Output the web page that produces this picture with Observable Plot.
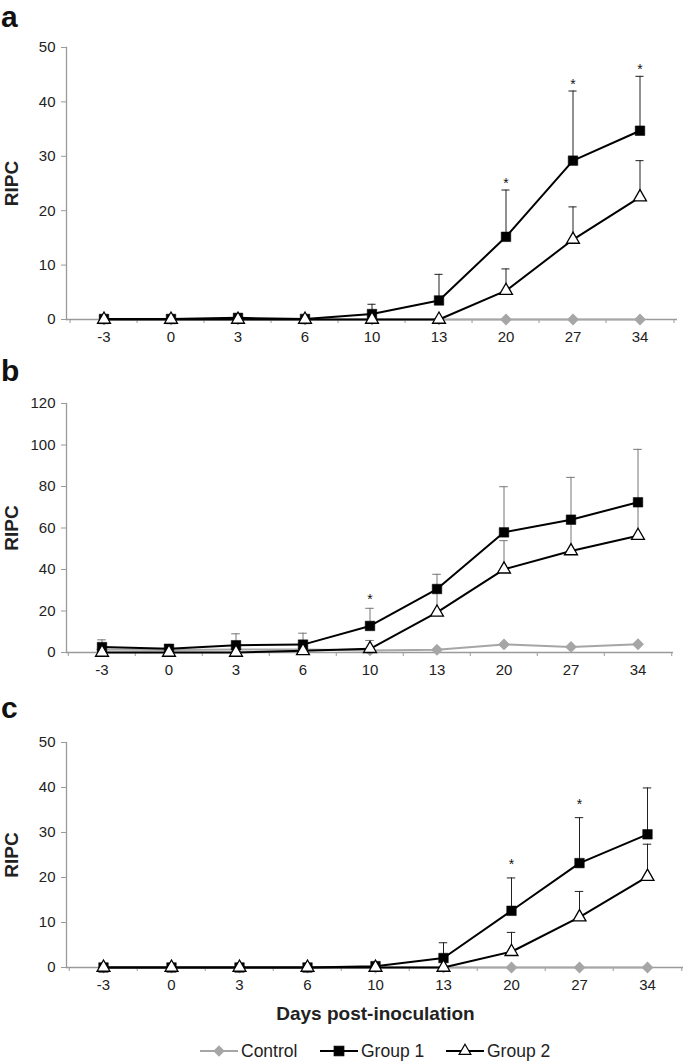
<!DOCTYPE html>
<html><head><meta charset="utf-8">
<script src="https://cdn.jsdelivr.net/npm/d3@7"></script>
<script src="https://cdn.jsdelivr.net/npm/@observablehq/plot@0.6"></script>
<style>
body{margin:0;background:#fff;}
#wrap{position:relative;width:685px;height:1061px;font-family:"Liberation Sans",Arial,sans-serif;color:#222;overflow:hidden;}
.panel{position:absolute;left:0;}
.letter{position:absolute;left:1px;font-weight:bold;font-size:30px;line-height:1;color:#111;}
.xtitle{position:absolute;left:0;width:685px;padding-left:66px;box-sizing:border-box;text-align:center;font-weight:bold;font-size:19px;color:#222;}
g[aria-label="y-axis label"], g[aria-label="y-axis label"] text{font-weight:bold;font-size:19px !important;}
g[aria-label$="tick label"], g[aria-label$="tick label"] text{font-size:15px !important;}
</style></head><body><div id="wrap"></div>
<script>
// ---- data ----
const days = ["-3", "0", "3", "6", "10", "13", "20", "27", "34"];

// Panel a
const ctrlA = [0, 0, 0, 0, 0, 0, 0, 0, 0];
const g1A   = [0.1, 0.1, 0.3, 0.1, 1.0, 3.5, 15.2, 29.2, 34.7];
const g1Asd = [0.3, 0.2, 0.3, 0.2, 1.8, 4.8, 8.6, 12.8, 10.0];
const g2A   = [0, 0, 0, 0, 0, 0, 5.3, 14.7, 22.5];
const g2Asd = [0, 0, 0, 0, 0, 0, 4.0, 6.0, 6.7];
const sigA  = ["20", "27", "34"];

// Panel b
const ctrlB = [1.5, 1.2, 1.5, 1.5, 1.0, 1.3, 3.9, 2.7, 4.0];
const g1B   = [2.6, 1.8, 3.5, 3.8, 12.8, 30.6, 57.9, 64.0, 72.4];
const g1Bsd = [3.5, 1.9, 5.5, 5.5, 8.5, 7.1, 22.0, 20.4, 25.5];
const g2B   = [0, 0, 0, 0.8, 1.8, 19.3, 40.1, 48.9, 56.3];
const g2Bsd = [0, 0, 0, 0.5, 4.0, 10.0, 13.8, 14.0, 15.0];
const sigB  = ["10"];

// Panel c
const ctrlC = [0, 0, 0, 0, 0, 0, 0, 0, 0];
const g1C   = [0, 0, 0, 0, 0.3, 2.1, 12.6, 23.2, 29.6];
const g1Csd = [0, 0, 0, 0, 0, 3.4, 7.3, 10.1, 10.3];
const g2C   = [0, 0, 0, 0, 0, 0, 3.5, 11.2, 20.2];
const g2Csd = [0, 0, 0, 0, 0, 0, 4.3, 5.7, 7.2];
const sigC  = ["20", "27"];

const seriesNames = ["Control", "Group 1", "Group 2"];
const yTitle = "RIPC";
const xTitle = "Days post-inoculation";

// ---- styles ----
const CTRL = "#a6a6a6", AXIS = "#9a9a9a";
const FONT = '"Liberation Sans", Arial, sans-serif';
const wrap = document.getElementById("wrap");

function panel(o) {
  const width = 685, ml = 66;
  const bw = (o.right - ml) / days.length;
  const rows = days.map((d, i) => ({day: d, ctrl: o.ctrl[i], g1: o.g1[i], g1sd: o.g1sd[i], g2: o.g2[i], g2sd: o.g2sd[i]}));
  const err = [];
  rows.forEach(r => {
    if (r.g1sd > 0) err.push({day: r.day, y1: r.g1, y2: r.g1 + r.g1sd});
    if (r.g2sd > 0) err.push({day: r.day, y1: r.g2, y2: r.g2 + r.g2sd});
  });
  const stars = rows.filter(r => o.sig.includes(r.day)).map(r => ({day: r.day, y: r.g1 + r.g1sd}));
  const cap = bw / 2 - 4.5;
  const svg = Plot.plot({
    width, height: o.mt + o.inner + o.mb,
    marginLeft: ml, marginRight: width - o.right, marginTop: o.mt, marginBottom: o.mb,
    style: {background: "transparent", fontFamily: FONT, fontSize: "15px", color: "#222", overflow: "visible"},
    x: {type: "band", domain: days, padding: 0},
    y: {domain: [0, o.yMax]},
    marks: [
      Plot.axisY({ticks: d3.range(0, o.yMax + 1, o.yStep), tickSize: 5, tickPadding: 6, stroke: AXIS, fill: "#222", fontSize: 15,
                  label: yTitle, labelArrow: false, labelAnchor: "center", labelOffset: 62}),
      Plot.axisX({tickSize: 0, tickPadding: 12, fill: "#222", fontSize: 15, label: null}),
      Plot.axisX({tickSize: 4, tickFormat: () => "", dx: -bw / 2, stroke: AXIS, label: null}),
      Plot.axisX({ticks: [days[days.length - 1]], tickSize: 4, tickFormat: () => "", dx: bw / 2, stroke: AXIS, label: null}),
      Plot.frame({anchor: "left", stroke: AXIS, strokeWidth: 1.3}),
      Plot.ruleY([0], {stroke: AXIS, strokeWidth: 1.3}),
      Plot.line(rows, {x: "day", y: "ctrl", stroke: CTRL, strokeWidth: 2}),
      Plot.dot(rows, {x: "day", y: "ctrl", symbol: "diamond2", r: 4.4, fill: CTRL, stroke: CTRL}),
      Plot.ruleX(err, {x: "day", y1: "y1", y2: "y2", stroke: o.errColor, strokeWidth: 1}),
      Plot.tickY(err, {x: "day", y: "y2", stroke: o.errColor, strokeWidth: 1, insetLeft: cap, insetRight: cap}),
      Plot.line(rows, {x: "day", y: "g1", stroke: "#000", strokeWidth: 2}),
      Plot.dot(rows, {x: "day", y: "g1", symbol: "square", r: 5.4, fill: "#000", stroke: "#000", strokeWidth: 0.5}),
      Plot.line(rows, {x: "day", y: "g2", stroke: "#000", strokeWidth: 2}),
      Plot.dot(rows, {x: "day", y: "g2", symbol: "triangle", r: 4.8, fill: "#fff", stroke: "#000", strokeWidth: 1.3}),
      Plot.text(stars, {x: "day", y: "y", text: () => "*", dy: o.starDy, fontSize: 14, fill: "#111"})
    ]
  });
  svg.classList.add("panel");
  svg.style.top = o.top + "px";
  svg.style.position = "absolute";
  wrap.appendChild(svg);
  const L = document.createElement("div");
  L.className = "letter";
  L.textContent = o.letter;
  L.style.top = o.letterTop + "px";
  wrap.appendChild(L);
}

panel({letter: "a", letterTop: 2, top: 0, mt: 47, inner: 272, mb: 30, right: 677, yMax: 50, yStep: 10,
       ctrl: ctrlA, g1: g1A, g1sd: g1Asd, g2: g2A, g2sd: g2Asd, sig: sigA, errColor: "#222", starDy: -7});
panel({letter: "b", letterTop: 356, top: 349, mt: 54, inner: 249, mb: 28, right: 673, yMax: 120, yStep: 20,
       ctrl: ctrlB, g1: g1B, g1sd: g1Bsd, g2: g2B, g2sd: g2Bsd, sig: sigB, errColor: "#777", starDy: -9});
panel({letter: "c", letterTop: 693, top: 680, mt: 62, inner: 225, mb: 40, right: 683, yMax: 50, yStep: 10,
       ctrl: ctrlC, g1: g1C, g1sd: g1Csd, g2: g2C, g2sd: g2Csd, sig: sigC, errColor: "#222", starDy: -13});

// x title
const xt = document.createElement("div");
xt.className = "xtitle";
xt.style.top = "1003px";
xt.textContent = xTitle;
wrap.appendChild(xt);

// legend
const legendItems = [
  {name: seriesNames[0], color: CTRL, fill: CTRL, symbol: d3.symbolDiamond2, size: 60, x: 200},
  {name: seriesNames[1], color: "#000", fill: "#000", symbol: d3.symbolSquare, size: 90, x: 320},
  {name: seriesNames[2], color: "#000", fill: "#fff", symbol: d3.symbolTriangle, size: 60, x: 446}
];
const lg = d3.create("svg").attr("width", 685).attr("height", 24)
  .style("position", "absolute").style("left", "0px").style("top", "1039px");
const it = lg.selectAll("g").data(legendItems).join("g").attr("transform", d => `translate(${d.x},12)`);
it.append("line").attr("x1", 0).attr("x2", 38).attr("stroke", d => d.color).attr("stroke-width", 2);
it.append("path").attr("transform", "translate(19,0)").attr("d", d => d3.symbol(d.symbol, d.size)())
  .attr("fill", d => d.fill).attr("stroke", d => d.color).attr("stroke-width", 1.2);
it.append("text").attr("x", 41).attr("dy", "0.35em").attr("font-family", FONT).attr("font-size", 17.5)
  .attr("fill", "#222").text(d => d.name);
wrap.appendChild(lg.node());
</script></body></html>
